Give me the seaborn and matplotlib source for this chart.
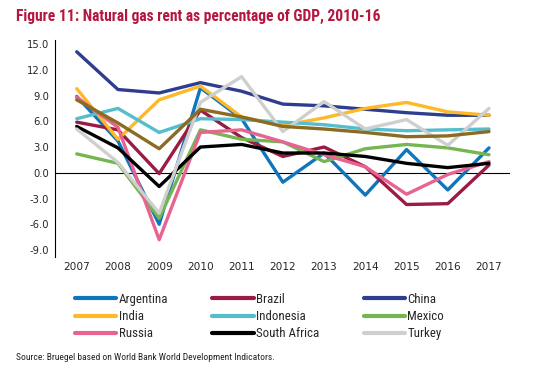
import numpy as np
import pandas as pd
import matplotlib
matplotlib.use("Agg")
import matplotlib.pyplot as plt
from matplotlib.lines import Line2D
from matplotlib import font_manager
import seaborn as sns

years = list(range(2007, 2018))

argentina = [8.9, 3.7, -6.0, 9.9, 6.3, -1.1, 2.3, -2.6, 2.7, -2.0, 2.9]
brazil = [5.9, 5.0, -0.1, 7.3, 4.1, 1.9, 3.0, 0.7, -3.7, -3.6, 0.9]
china = [14.1, 9.7, 9.3, 10.5, 9.5, 8.0, 7.8, 7.4, 7.0, 6.7, 6.7]
india = [9.8, 3.9, 8.5, 10.1, 6.5, 5.5, 6.4, 7.5, 8.2, 7.1, 6.7]
indonesia = [6.3, 7.5, 4.7, 6.3, 6.2, 5.9, 5.6, 5.1, 4.9, 5.0, 5.1]
mexico = [2.2, 1.1, -5.3, 5.0, 3.9, 3.6, 1.3, 2.8, 3.3, 2.9, 2.1]
russia = [8.8, 5.3, -7.8, 4.7, 5.0, 3.6, 2.1, 0.7, -2.5, -0.2, 1.3]
south_africa = [5.4, 2.9, -1.6, 3.0, 3.3, 2.3, 2.3, 1.9, 1.1, 0.6, 1.1]
turkey = [5.1, 1.2, -4.7, 8.2, 11.2, 4.8, 8.3, 5.1, 6.2, 3.2, 7.5]
unlabeled = [8.5, 5.8, 2.8, 7.4, 6.5, 5.4, 5.1, 4.7, 4.2, 4.3, 4.8]

countries = ["Argentina", "Brazil", "China", "India", "Indonesia", "Mexico",
             "Russia", "South Africa", "Turkey", "(unlabelled)"]
series = [argentina, brazil, china, india, indonesia, mexico,
          russia, south_africa, turkey, unlabeled]
colors = ["#0F75BC", "#9B1B42", "#2E3D8F", "#FDB927", "#56BDCD", "#76B652",
          "#E8638F", "#000000", "#CFCFCF", "#8B6B22"]

y_ticks = [-9.0, -6.0, -3.0, 0.0, 3.0, 6.0, 9.0, 12.0, 15.0]

rows = []
for name, vals in zip(countries, series):
    for yr, v in zip(years, vals):
        rows.append({"year": yr, "value": v, "country": name})
df = pd.DataFrame(rows)

sns.set_theme(style="white")
plt.rcParams["font.family"] = ["DejaVu Sans"]

# condensed face for title / legend / source if one is around
names = {f.name for f in font_manager.fontManager.ttflist}
narrow = [n for n in ["Roboto Condensed", "Liberation Sans Narrow", "Roboto"] if n in names]
narrow_fam = narrow + ["DejaVu Sans"]

fig = plt.figure(figsize=(5.38, 3.75), dpi=100)
ax = fig.add_axes([0.102, 0.315, 0.846, 0.579])

ax.axhline(0, color="black", lw=0.8, zorder=1)
sns.lineplot(data=df, x="year", y="value", hue="country", hue_order=countries,
             palette=dict(zip(countries, colors)), linewidth=2.4,
             legend=False, ax=ax, zorder=2)

ax.set_xlim(2006.47, 2017.51)
ax.set_ylim(-9.8, 15.5)
ax.set_xticks(years)
ax.set_xticklabels([str(y) for y in years], fontsize=7.6)
ax.set_yticks(y_ticks)
ax.set_yticklabels([f"{t:.1f}" for t in y_ticks], fontsize=7.2)
ax.tick_params(length=0, pad=4)
ax.set_xlabel("")
ax.set_ylabel("")
for s in ["top", "right", "bottom"]:
    ax.spines[s].set_visible(False)
ax.spines["left"].set_color("black")
ax.spines["left"].set_linewidth(0.8)

# legend: row-major order in the picture, matplotlib fills columns
order = [0, 3, 6, 1, 4, 7, 2, 5, 8]
handles = [Line2D([0], [0], color=colors[i], lw=3.0, solid_capstyle="round")
           for i in order]
labels = [countries[i] for i in order]
fig.legend(handles, labels, ncol=3, loc="upper left",
           bbox_to_anchor=(0.118, 0.25), frameon=False,
           handlelength=3.2, handletextpad=0.2, columnspacing=3.4,
           labelspacing=0.33,
           prop={"family": narrow_fam, "size": 9.3, "stretch": "condensed"})

fig.text(0.03, 0.955, "Figure 11: Natural gas rent as percentage of GDP, 2010-16",
         color="#B5163F", fontsize=11.2, fontweight="bold", fontstretch="condensed",
         family=narrow_fam, va="center")
fig.text(0.03, 0.048, "Source: Bruegel based on World Bank World Development Indicators.",
         color="#222222", fontsize=6.8, fontstretch="condensed",
         family=narrow_fam, va="center")

fig.savefig("out.png", dpi=100)
